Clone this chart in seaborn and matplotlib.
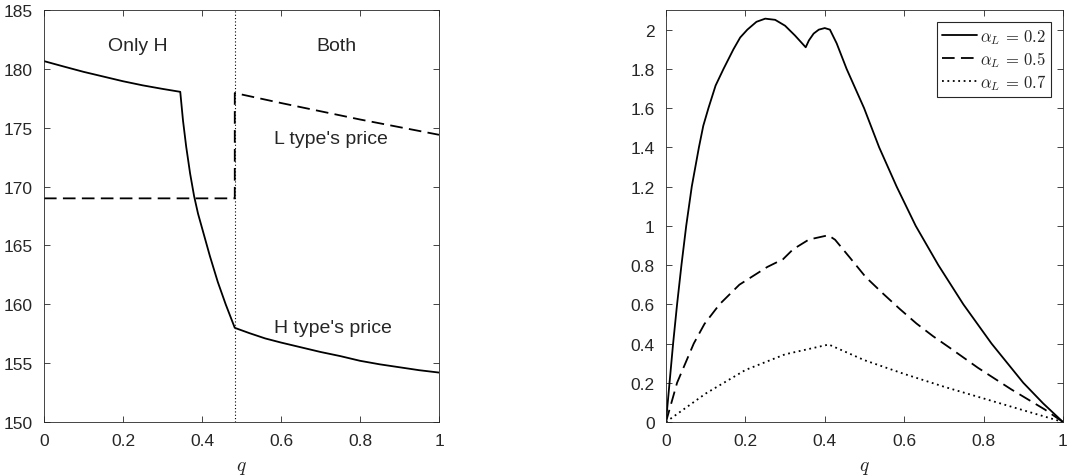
import matplotlib
matplotlib.use("Agg")
import matplotlib.pyplot as plt
import seaborn as sns

# left panel: prices against q
h_q = [0.0, 0.05, 0.1, 0.15, 0.2, 0.25, 0.3, 0.345, 0.348, 0.352, 0.36, 0.37,
       0.38, 0.39, 0.40, 0.42, 0.44, 0.46, 0.483, 0.52, 0.56, 0.6, 0.65, 0.7,
       0.75, 0.8, 0.85, 0.9, 0.95, 1.0]
h_price = [180.66, 180.2, 179.75, 179.35, 178.95, 178.6, 178.3, 178.05, 177.0,
           175.6, 173.4, 171.1, 169.2, 167.7, 166.5, 164.1, 161.9, 160.0, 158.0,
           157.55, 157.1, 156.75, 156.35, 155.95, 155.6, 155.2, 154.9, 154.65,
           154.4, 154.2]
l_q = [0.0, 0.483, 0.483, 0.6, 0.7, 0.8, 0.9, 1.0]
l_price = [169.0, 169.0, 177.95, 177.1, 176.4, 175.7, 175.05, 174.4]
q_split = 0.483

# right panel: three alpha_L curves
a2_q = [0.0, 0.009, 0.018, 0.028, 0.039, 0.051, 0.065, 0.083, 0.094, 0.107,
        0.125, 0.145, 0.17, 0.187, 0.205, 0.228, 0.25, 0.275, 0.3, 0.325, 0.352,
        0.36, 0.372, 0.385, 0.4, 0.413, 0.43, 0.455, 0.499, 0.537, 0.581, 0.629,
        0.686, 0.749, 0.82, 0.9, 0.95, 1.0]
a2_v = [0.0, 0.2, 0.4, 0.6, 0.8, 1.0, 1.2, 1.4, 1.51, 1.6, 1.715, 1.8, 1.9,
        1.96, 2.0, 2.04, 2.056, 2.05, 2.02, 1.97, 1.91, 1.945, 1.98, 2.0, 2.008,
        2.0, 1.93, 1.8, 1.6, 1.4, 1.2, 1.0, 0.8, 0.6, 0.4, 0.2, 0.095, 0.0]
a5_q = [0.0, 0.028, 0.07, 0.097, 0.135, 0.185, 0.255, 0.295, 0.32, 0.36, 0.409,
        0.426, 0.464, 0.503, 0.547, 0.589, 0.631, 0.673, 0.715, 0.786, 0.87,
        0.954, 1.0]
a5_v = [0.0, 0.2, 0.4, 0.5, 0.6, 0.7, 0.79, 0.83, 0.88, 0.93, 0.952, 0.929,
        0.836, 0.739, 0.654, 0.576, 0.502, 0.437, 0.378, 0.276, 0.166, 0.064, 0.0]
a7_q = [0.0, 0.1, 0.2, 0.3, 0.41, 0.5, 0.6, 0.7, 0.8, 0.9, 1.0]
a7_v = [0.0, 0.145, 0.265, 0.345, 0.395, 0.315, 0.245, 0.18, 0.12, 0.06, 0.0]

sns.set_style("ticks")
plt.rcParams["font.family"] = ["Liberation Sans", "DejaVu Sans"]
plt.rcParams["mathtext.fontset"] = "cm"
plt.rcParams["xtick.direction"] = "in"
plt.rcParams["ytick.direction"] = "in"

fig = plt.figure(figsize=(10.88, 4.77), dpi=100)
ax1 = fig.add_axes([0.0404, 0.1132, 0.3631, 0.8637])
ax2 = fig.add_axes([0.6121, 0.1132, 0.3649, 0.8637])

lw = 1.3
dash = (0, (7, 3.5))
dot = (0, (1, 2))
sns.lineplot(x=h_q, y=h_price, ax=ax1, color="black", lw=lw, sort=False, estimator=None)
sns.lineplot(x=l_q, y=l_price, ax=ax1, color="black", lw=lw, sort=False, estimator=None,
             linestyle=dash)
ax1.axvline(q_split, color="black", lw=0.8, linestyle=dot)
ax1.set(xlim=(0, 1), ylim=(150, 185))
ax1.set_xticks([0, 0.2, 0.4, 0.6, 0.8, 1])
ax1.set_xticklabels(["0", "0.2", "0.4", "0.6", "0.8", "1"])
ax1.set_yticks(range(150, 186, 5))
ax1.text(0.238, 182.0, "Only H", ha="center", va="center", fontsize=14)
ax1.text(0.74, 182.0, "Both", ha="center", va="center", fontsize=14)
ax1.text(0.727, 174.1, "L type's price", ha="center", va="center", fontsize=14)
ax1.text(0.732, 158.0, "H type's price", ha="center", va="center", fontsize=14)

sns.lineplot(x=a2_q, y=a2_v, ax=ax2, color="black", lw=lw, sort=False, estimator=None,
             label=r"$\alpha_L \,=\, 0.2$")
sns.lineplot(x=a5_q, y=a5_v, ax=ax2, color="black", lw=lw, sort=False, estimator=None,
             linestyle=dash, label=r"$\alpha_L \,=\, 0.5$")
sns.lineplot(x=a7_q, y=a7_v, ax=ax2, color="black", lw=lw, sort=False, estimator=None,
             linestyle=dot, label=r"$\alpha_L \,=\, 0.7$")
ax2.set(xlim=(0, 1), ylim=(0, 2.1))
ax2.set_xticks([0, 0.2, 0.4, 0.6, 0.8, 1])
ax2.set_xticklabels(["0", "0.2", "0.4", "0.6", "0.8", "1"])
ax2.set_yticks([0, 0.2, 0.4, 0.6, 0.8, 1, 1.2, 1.4, 1.6, 1.8, 2])
ax2.set_yticklabels(["0", "0.2", "0.4", "0.6", "0.8", "1", "1.2", "1.4", "1.6", "1.8", "2"])
leg = ax2.legend(loc="upper right", fontsize=12, handlelength=2.05, handletextpad=0.2,
                 borderaxespad=0.7, borderpad=0.3, labelspacing=0.2, fancybox=False,
                 framealpha=1)
leg.get_frame().set_edgecolor("#262626")
leg.get_frame().set_linewidth(0.8)

for ax in (ax1, ax2):
    ax.set_xlabel("$q$", fontsize=14, labelpad=8)
    ax.set_ylabel("")
    ax.tick_params(labelsize=12.5, colors="#262626", top=True, right=True, length=4,
                   width=0.6, pad=8)
    for sp in ax.spines.values():
        sp.set_color("#262626")
        sp.set_linewidth(0.6)

fig.savefig("out.png", dpi=100)
